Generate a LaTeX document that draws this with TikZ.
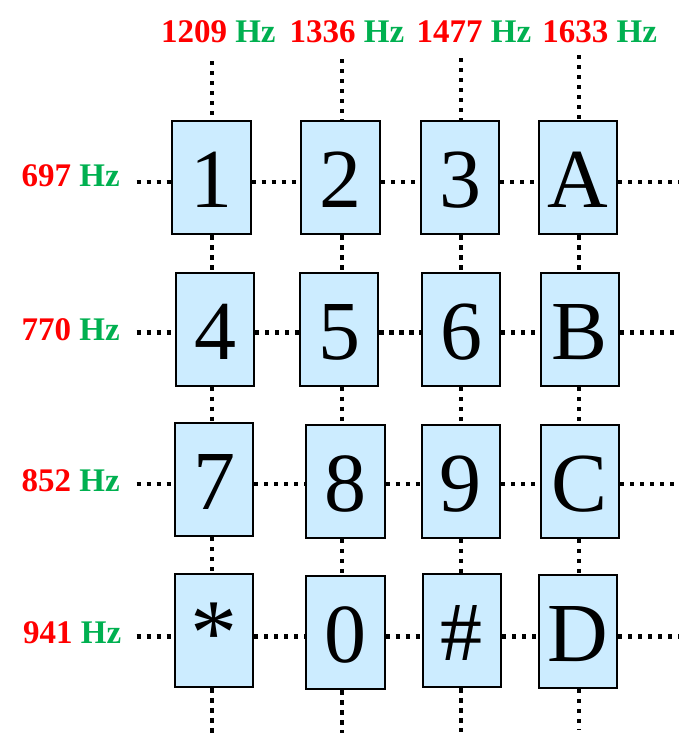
\documentclass[tikz,border=0pt]{standalone}
\usepackage{fontspec}
\setmainfont{Liberation Serif}
\definecolor{keyfill}{RGB}{204,236,255}
\definecolor{hzred}{RGB}{255,0,0}
\definecolor{hzgreen}{RGB}{0,176,80}
\tikzset{
  key/.style={draw=black, line width=2pt, fill=keyfill, minimum width=78.5pt,
    minimum height=113pt, inner sep=0pt, text height=60pt, text depth=0pt,
    font=\fontsize{84}{84}\selectfont},
  dotline/.style={line width=4.3pt, dash pattern=on 4.2pt off 5.8pt},
  hzlabel/.style={inner sep=0pt, font=\fontsize{33}{33}\selectfont\bfseries}
}
\newcommand{\hzlab}[1]{\textcolor{hzred}{#1} \textcolor{hzgreen}{Hz}}
\begin{document}
\begin{tikzpicture}[x=1pt,y=-1pt]
\useasboundingbox (0,0) rectangle (699,747);
% keys
\node[key] (k1) at (211.4,177.9) {1};
\node[key] (k2) at (340.7,177.9) {2};
\node[key] (k3) at (460.0,177.9) {3};
\node[key] (kA) at (578.0,177.9) {A};
\node[key] (k4) at (215.0,329.2) {4};
\node[key] (k5) at (339.2,329.2) {5};
\node[key] (k6) at (461.0,329.5) {6};
\node[key] (kB) at (579.9,329.5) {B};
\node[key] (k7) at (214.0,479.7) {7};
\node[key] (k8) at (345.4,481.4) {8};
\node[key] (k9) at (460.9,481.4) {9};
\node[key] (kC) at (579.9,481.4) {C};
\node[key] (ks) at (213.9,630.9) {\raisebox{-4pt}{\scalebox{1.12}{*}}};
\node[key] (k0) at (345.4,632.9) {0};
\node[key] (kh) at (461.9,630.9) {\#};
\node[key] (kD) at (578.0,631.7) {D};
% column coordinates
\coordinate (t1) at (212.3,61);  \coordinate (e1) at (212.3,736);
\coordinate (t2) at (342.3,59);  \coordinate (e2) at (342.3,733);
\coordinate (t3) at (460.7,58);  \coordinate (e3) at (460.7,732);
\coordinate (t4) at (578.7,55);  \coordinate (e4) at (578.7,730);
% row coordinates
\coordinate (l1) at (136.7,182.0); \coordinate (r1) at (679,182.0);
\coordinate (l2) at (136.7,332.5); \coordinate (r2) at (679,332.5);
\coordinate (l3) at (136.7,484.3); \coordinate (r3) at (679,484.3);
\coordinate (l4) at (136.7,636.5); \coordinate (r4) at (679,636.5);
% vertical dotted lines
\foreach \t/\a/\b/\c/\d/\e in {t1/k1/k4/k7/ks/e1, t2/k2/k5/k8/k0/e2, t3/k3/k6/k9/kh/e3, t4/kA/kB/kC/kD/e4}{
  \draw[dotline] (\t) -- (\t |- \a.north);
  \draw[dotline] (\t |- \a.south) -- (\t |- \b.north);
  \draw[dotline] (\t |- \b.south) -- (\t |- \c.north);
  \draw[dotline] (\t |- \c.south) -- (\t |- \d.north);
  \draw[dotline] (\t |- \d.south) -- (\e);
}
% horizontal dotted lines
\foreach \l/\a/\b/\c/\d/\r in {l1/k1/k2/k3/kA/r1, l2/k4/k5/k6/kB/r2, l3/k7/k8/k9/kC/r3, l4/ks/k0/kh/kD/r4}{
  \draw[dotline] (\l) -- (\l -| \a.west);
  \draw[dotline] (\l -| \a.east) -- (\l -| \b.west);
  \draw[dotline] (\l -| \b.east) -- (\l -| \c.west);
  \draw[dotline] (\l -| \c.east) -- (\l -| \d.west);
  \draw[dotline] (\l -| \d.east) -- (\r);
}
% column labels
\node[hzlabel, anchor=base] (c1) at (218.3,42) {\hzlab{1209}};
\node[hzlabel, anchor=base] (c2) at (347.0,42) {\hzlab{1336}};
\node[hzlabel, anchor=base] (c3) at (474.0,42) {\hzlab{1477}};
\node[hzlabel, anchor=base] (c4) at (599.7,42) {\hzlab{1633}};
% row labels
\node[hzlabel, anchor=base east] (h1) at (120,186.5) {\hzlab{697}};
\node[hzlabel, anchor=base east] (h2) at (120,340.5) {\hzlab{770}};
\node[hzlabel, anchor=base east] (h3) at (120,491.7) {\hzlab{852}};
\node[hzlabel, anchor=base east] (h4) at (121.5,643.3) {\hzlab{941}};
\end{tikzpicture}
\end{document}
